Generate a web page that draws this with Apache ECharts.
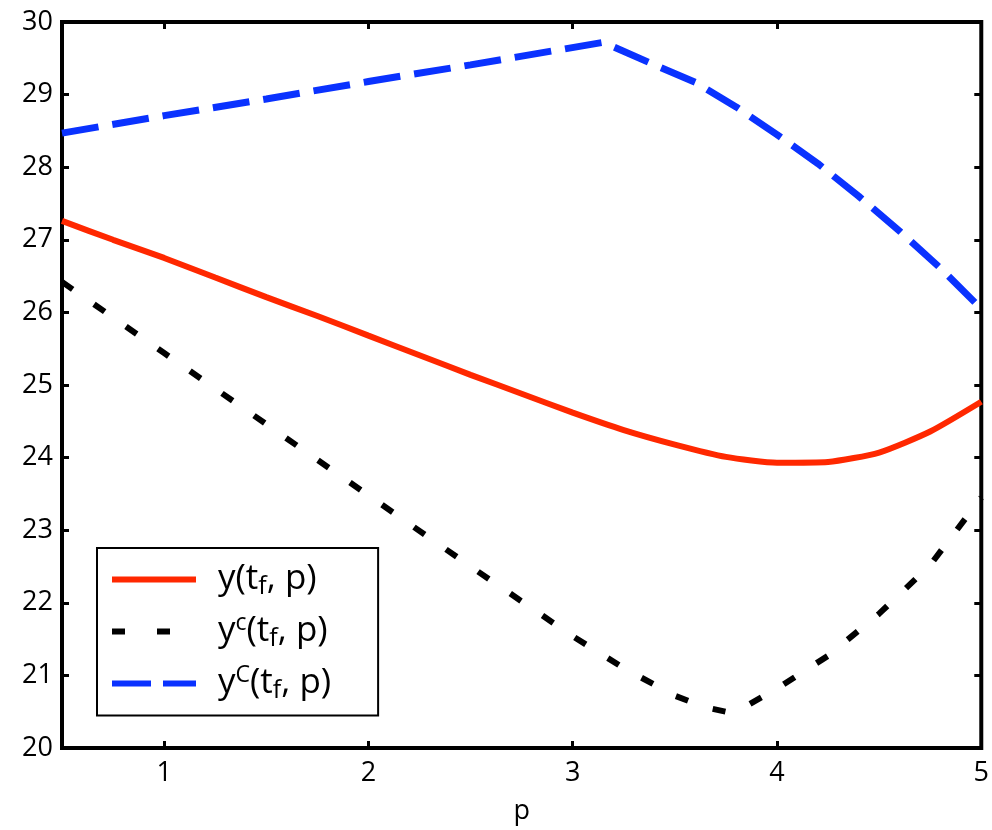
<!DOCTYPE html>
<html>
<head>
<meta charset="utf-8">
<script src="https://cdn.jsdelivr.net/npm/echarts@6/dist/echarts.min.js"></script>
<style>
  html, body { margin: 0; padding: 0; background: #fff; }
  #chart { width: 992px; height: 830px; }
</style>
</head>
<body>
<div id="chart"></div>
<script>
// y(t_f, p): solid red curve
const pRed = [0.5, 0.75, 1.0, 1.25, 1.5, 1.75, 2.0, 2.25, 2.5, 2.75, 3.0, 3.25, 3.5, 3.75, 4.0, 4.25, 4.5, 4.75, 5.0];
const yRed = [27.26, 27.0, 26.75, 26.48, 26.21, 25.95, 25.68, 25.41, 25.14, 24.88, 24.62, 24.38, 24.18, 24.01, 23.93, 23.94, 24.07, 24.36, 24.77];

// y^c(t_f, p): dotted black curve
const pLow = [0.5, 1.0, 1.5, 2.0, 2.5, 2.75, 3.0, 3.25, 3.5, 3.65, 3.75, 3.85, 4.0, 4.25, 4.5, 4.75, 5.0];
const yLow = [26.42, 25.44, 24.46, 23.48, 22.50, 22.02, 21.54, 21.10, 20.72, 20.56, 20.50, 20.58, 20.82, 21.27, 21.85, 22.52, 23.45];

// y^C(t_f, p): dashed blue curve
const pUp = [0.5, 1.0, 1.5, 2.0, 2.5, 3.15, 3.4, 3.6, 3.8, 4.0, 4.2, 4.4, 4.6, 4.8, 5.0];
const yUp = [28.47, 28.71, 28.94, 29.18, 29.41, 29.72, 29.41, 29.17, 28.83, 28.45, 28.05, 27.60, 27.12, 26.61, 26.05];

const xTicks = [1, 2, 3, 4, 5];
const seriesNames = ['y(tf, p)', 'yc(tf, p)', 'yC(tf, p)'];
const legendRich = [
  '{n|y(t}{sub|f}{n|, p)}',
  '{n|y}{sup|c}{n|(t}{sub|f}{n|, p)}',
  '{n|y}{sup|C}{n|(t}{sub|f}{n|, p)}'
];

const RED = '#ff2800';
const BLACK = '#000000';
const BLUE = '#0a32ff';
const FONT = '"Open Sans", "DejaVu Sans", sans-serif';
const pairs = (xs, ys) => xs.map((x, i) => [x, ys[i]]);

const chart = echarts.init(document.getElementById('chart'), null, { renderer: 'canvas' });

const tickStyle = { show: true, inside: true, length: 7, lineStyle: { color: '#000', width: 3 } };

chart.setOption({
  backgroundColor: '#fff',
  animation: false,
  grid: {
    left: 62, right: 10, top: 22, bottom: 82,
    show: true, borderColor: '#000', borderWidth: 4, backgroundColor: 'transparent'
  },
  xAxis: [
    {
      type: 'value', min: 0.5, max: 5, position: 'bottom',
      name: 'p', nameLocation: 'middle', nameGap: 50,
      nameTextStyle: { fontFamily: FONT, fontSize: 27, color: '#000' },
      axisLine: { show: false },
      axisTick: Object.assign({ customValues: xTicks }, tickStyle),
      axisLabel: { customValues: xTicks, fontFamily: FONT, fontSize: 27, color: '#000', margin: 12 },
      splitLine: { show: false }
    },
    {
      type: 'value', min: 0.5, max: 5, position: 'top',
      axisLine: { show: false },
      axisTick: Object.assign({ customValues: xTicks }, tickStyle),
      axisLabel: { show: false },
      splitLine: { show: false }
    }
  ],
  yAxis: [
    {
      type: 'value', min: 20, max: 30, interval: 1, position: 'left',
      axisLine: { show: false },
      axisTick: tickStyle,
      axisLabel: { fontFamily: FONT, fontSize: 27, color: '#000', margin: 9 },
      splitLine: { show: false }
    },
    {
      type: 'value', min: 20, max: 30, interval: 1, position: 'right',
      axisLine: { show: false },
      axisTick: tickStyle,
      axisLabel: { show: false },
      splitLine: { show: false }
    }
  ],
  legend: {
    orient: 'vertical',
    left: 97, top: 548,
    padding: [14, 47, 12, 12],
    itemWidth: 84, itemHeight: 14, itemGap: 12,
    borderColor: '#000', borderWidth: 2, borderRadius: 0,
    backgroundColor: '#fff',
    selectedMode: false,
    itemStyle: { opacity: 0 },
    data: [
      { name: seriesNames[0], lineStyle: { color: RED, width: 6, type: 'solid' } },
      { name: seriesNames[1], lineStyle: { color: BLACK, width: 6, type: [13, 32] } },
      { name: seriesNames[2], lineStyle: { color: BLUE, width: 6, type: [39, 12] } }
    ],
    formatter: name => legendRich[seriesNames.indexOf(name)],
    textStyle: {
      fontFamily: FONT, fontSize: 35, color: '#000',
      padding: [0, 0, 0, 17],
      rich: {
        n: { fontFamily: FONT, fontSize: 35, color: '#000', lineHeight: 40 },
        sub: { fontFamily: FONT, fontSize: 25, color: '#000', lineHeight: 22, verticalAlign: 'bottom' },
        sup: { fontFamily: FONT, fontSize: 23, color: '#000', lineHeight: 26, verticalAlign: 'top' }
      }
    }
  },
  series: [
    {
      name: seriesNames[0], type: 'line', data: pairs(pRed, yRed),
      symbol: 'none', smooth: 0.2, z: 3,
      lineStyle: { color: RED, width: 6 }, itemStyle: { color: RED }
    },
    {
      name: seriesNames[1], type: 'line', data: pairs(pLow, yLow),
      symbol: 'none', z: 2,
      lineStyle: { color: BLACK, width: 6, type: [13, 26], cap: 'butt' }, itemStyle: { color: BLACK }
    },
    {
      name: seriesNames[2], type: 'line', data: pairs(pUp, yUp),
      symbol: 'none', z: 2,
      lineStyle: { color: BLUE, width: 7, type: [37, 14], cap: 'butt' }, itemStyle: { color: BLUE }
    }
  ]
});
</script>
</body>
</html>
